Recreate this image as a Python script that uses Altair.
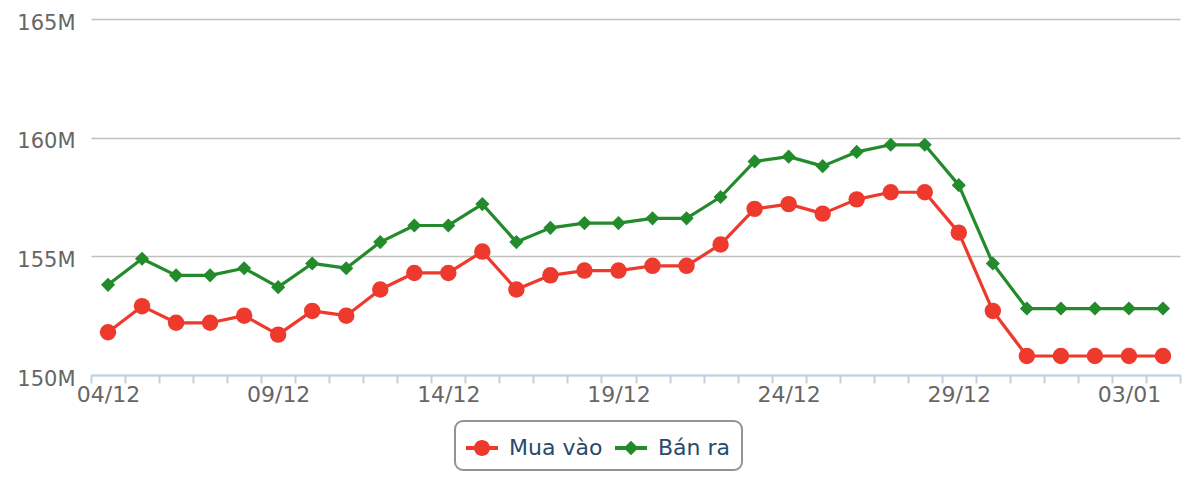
import altair as alt
import pandas as pd

dates = ["04/12", "05/12", "06/12", "07/12", "08/12", "09/12", "10/12", "11/12",
         "12/12", "13/12", "14/12", "15/12", "16/12", "17/12", "18/12", "19/12",
         "20/12", "21/12", "22/12", "23/12", "24/12", "25/12", "26/12", "27/12",
         "28/12", "29/12", "30/12", "31/12", "01/01", "02/01", "03/01", "04/01"]

mua_vao = [151.8, 152.9, 152.2, 152.2, 152.5, 151.7, 152.7, 152.5,
           153.6, 154.3, 154.3, 155.2, 153.6, 154.2, 154.4, 154.4,
           154.6, 154.6, 155.5, 157.0, 157.2, 156.8, 157.4, 157.7,
           157.7, 156.0, 152.7, 150.8, 150.8, 150.8, 150.8, 150.8]

ban_ra = [153.8, 154.9, 154.2, 154.2, 154.5, 153.7, 154.7, 154.5,
          155.6, 156.3, 156.3, 157.2, 155.6, 156.2, 156.4, 156.4,
          156.6, 156.6, 157.5, 159.0, 159.2, 158.8, 159.4, 159.7,
          159.7, 158.0, 154.7, 152.8, 152.8, 152.8, 152.8, 152.8]

series_names = ["Mua vào", "Bán ra"]
series_colors = ["#ee3a2d", "#238b2b"]
x_tick_labels = ["04/12", "09/12", "14/12", "19/12", "24/12", "29/12", "03/01"]
y_ticks = [150, 155, 160, 165]

rows = []
for d, v in zip(dates, mua_vao):
    rows.append({"date": d, "series": series_names[0], "value": v})
for d, v in zip(dates, ban_ra):
    rows.append({"date": d, "series": series_names[1], "value": v})
df = pd.DataFrame(rows)

label_list = "[" + ",".join("'" + t + "'" for t in x_tick_labels) + "]"
FONT = "DejaVu Sans"

x = alt.X(
    "date:N", sort=dates,
    scale=alt.Scale(type="band", paddingInner=0, paddingOuter=0),
    axis=alt.Axis(
        title=None, labelAngle=0, tickBand="extent", grid=False,
        labelExpr="indexof(" + label_list + ", datum.value) >= 0 ? datum.value : ''",
        labelOverlap=False, domainColor="#c0d0e0", domainWidth=2,
        tickColor="#c0d0e0", tickWidth=2, tickSize=8,
        labelColor="#666666", labelFontSize=22, labelFont=FONT, labelPadding=1,
    ),
)
y = alt.Y(
    "value:Q",
    scale=alt.Scale(domain=[150, 165], nice=False, zero=False),
    axis=alt.Axis(
        title=None, values=y_ticks, labelExpr="datum.value + 'M'",
        domain=False, ticks=False, gridColor="#c0c0c0", gridWidth=1.5,
        labelColor="#666666", labelFontSize=21, labelFont=FONT,
        labelPadding=16, labelOffset=4,
    ),
)

# legend symbols: a short line with the series marker on it
circle_path = "M-1,-0.12H1V0.12H-1Z M0.5,0A0.5,0.5 0 1,1 -0.5,0A0.5,0.5 0 1,1 0.5,0Z"
diamond_path = "M-1,-0.12H1V0.12H-1Z M0,-0.46L0.46,0L0,0.46L-0.46,0Z"

legend_props = dict(
    title=None, orient="none", legendX=364, legendY=402, direction="horizontal",
    strokeColor="#939393", cornerRadius=8, padding=11, fillColor="white",
    labelFont=FONT, labelFontSize=22, labelColor="#274b6d",
    symbolSize=1024, symbolStrokeWidth=0, labelOffset=11, columnPadding=12,
    symbolOpacity=1,
)

color = alt.Color("series:N", scale=alt.Scale(domain=series_names, range=series_colors),
                  legend=alt.Legend(**legend_props))

base = alt.Chart(df).encode(x=x, y=y, color=color)
line = base.mark_line(strokeWidth=3.2, strokeJoin="round")
pts_red = base.mark_point(filled=True, opacity=1, strokeWidth=0, shape="circle", size=270).transform_filter(
    alt.datum.series == series_names[0])
pts_green = base.mark_point(filled=True, opacity=1, strokeWidth=0, shape="diamond", size=200).transform_filter(
    alt.datum.series == series_names[1])

legend_layer = base.mark_point(filled=True, strokeWidth=0, opacity=0).encode(
    shape=alt.Shape("series:N", scale=alt.Scale(domain=series_names, range=[circle_path, diamond_path]),
                    legend=alt.Legend(**legend_props)),
)

chart = alt.layer(line, pts_red, pts_green, legend_layer).properties(
    width=1089, height=356,
    padding={"left": 91, "top": 19, "right": 20, "bottom": 125},
    autosize=alt.AutoSizeParams(type="none"),
    background="white",
).configure_view(stroke=None).configure_legend(strokeWidth=2)

chart.save("out.html", embed_options={"renderer": "svg", "actions": False})
